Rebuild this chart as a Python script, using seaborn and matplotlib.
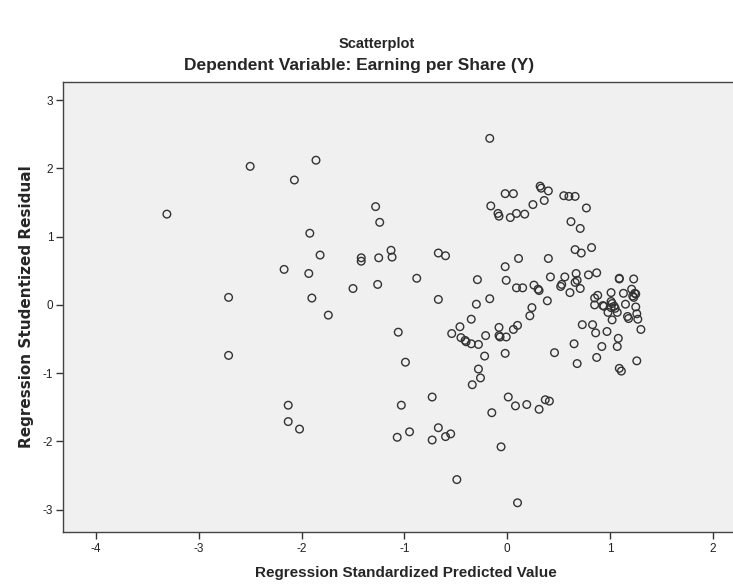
import numpy as np
import pandas as pd
import matplotlib
matplotlib.use("Agg")
import matplotlib.pyplot as plt
import seaborn as sns

# Regression Standardized Predicted Value
pred = [
    -3.31, -2.50, -2.07, -1.86, -1.28, -1.24, -1.92, -1.82, -1.42, -1.42,
    -1.25, -1.13, -1.12, -2.17, -1.93, -1.50, -1.26, -2.71, -1.90,
    -1.74, -2.71, -2.13, -2.13, -2.02,
    -0.17, -0.02, 0.06, 0.32, 0.33, 0.40, -0.16, -0.09, -0.08, 0.03,
    0.09, 0.17, 0.25, 0.36, 0.55, 0.60, 0.66, 0.77, 0.62, 0.71,
    0.66, 0.72, 0.82, -0.67, -0.60, 0.11, 0.40, -0.02, -0.88, -0.29,
    -0.01, 0.42, 0.56, 0.67, 0.79, 0.87, 1.09, 1.09, 1.23, 0.09,
    0.15, 0.26, 0.30, 0.31, 0.52, 0.53, 0.66, 0.68, 0.71, 0.61,
    -0.67, -0.30, -0.17, 0.24, 0.39, 0.85, 0.88, 0.85, 1.01, 0.94,
    1.01, 1.02, 1.01, 1.04, 1.13, 1.21, 1.15, 1.22, 1.23, 1.25,
    1.24, 1.25,
    0.93, 1.05, 0.98, 1.07, 1.26, 1.17, 1.18, 1.27, 1.30, 1.02,
    0.22, 0.73, 0.83, 0.86, 0.97, 1.08, 1.07, 0.92, 0.87, 0.65,
    0.46, 0.68, 1.09, 1.11, 1.26, -1.06, -0.99, -1.03, -1.07, -0.95,
    -0.73, -0.67, -0.73, -0.60, -0.55, -0.49, -0.46, -0.54, -0.35, -0.45,
    -0.41, -0.40, -0.35, -0.28, -0.21, -0.22, -0.28, -0.26, -0.34, -0.08,
    -0.08, -0.07, -0.01, 0.06, 0.10, -0.02, -0.15, 0.01, 0.08, 0.19,
    0.31, 0.37, 0.41, -0.06, 0.10,
]

# Regression Studentized Residual
resid = [
    1.33, 2.03, 1.83, 2.12, 1.44, 1.21, 1.05, 0.73, 0.69, 0.64,
    0.69, 0.80, 0.70, 0.52, 0.46, 0.24, 0.30, 0.11, 0.10,
    -0.15, -0.74, -1.47, -1.71, -1.82,
    2.44, 1.63, 1.63, 1.74, 1.71, 1.67, 1.45, 1.34, 1.30, 1.28,
    1.34, 1.33, 1.47, 1.53, 1.60, 1.59, 1.59, 1.42, 1.22, 1.12,
    0.81, 0.76, 0.84, 0.76, 0.72, 0.68, 0.68, 0.56, 0.39, 0.37,
    0.36, 0.41, 0.41, 0.46, 0.44, 0.47, 0.39, 0.38, 0.38, 0.25,
    0.25, 0.29, 0.23, 0.21, 0.27, 0.30, 0.33, 0.36, 0.24, 0.18,
    0.08, 0.01, 0.09, -0.04, 0.06, 0.10, 0.14, 0.00, 0.18, -0.02,
    0.05, 0.02, -0.04, -0.02, 0.17, 0.23, 0.01, 0.13, 0.11, 0.16,
    0.17, -0.03,
    -0.01, -0.05, -0.11, -0.11, -0.13, -0.17, -0.20, -0.21, -0.36, -0.22,
    -0.16, -0.29, -0.29, -0.41, -0.39, -0.49, -0.61, -0.61, -0.77, -0.57,
    -0.70, -0.86, -0.93, -0.97, -0.82, -0.40, -0.84, -1.47, -1.94, -1.86,
    -1.35, -1.80, -1.98, -1.93, -1.89, -2.56, -0.32, -0.42, -0.21, -0.48,
    -0.52, -0.54, -0.57, -0.58, -0.45, -0.75, -0.94, -1.07, -1.17, -0.33,
    -0.45, -0.47, -0.47, -0.36, -0.30, -0.71, -1.58, -1.35, -1.48, -1.46,
    -1.53, -1.39, -1.41, -2.08, -2.90,
]

df = pd.DataFrame({"pred": pred, "resid": resid})

sns.set_theme(style="ticks")
plt.rcParams["font.family"] = ["Liberation Sans", "DejaVu Sans"]
plt.rcParams["axes.unicode_minus"] = False

fig = plt.figure(figsize=(7.33, 5.88), dpi=100)
ax = fig.add_axes([0.086, 0.095, 0.916, 0.766])
ax.set_facecolor("#f0f0f0")

sns.scatterplot(data=df, x="pred", y="resid", ax=ax, marker="o", s=30,
                fc="none", ec="#333333", linewidth=1.0, legend=False)

ax.set_xlim(-4.32, 2.21)
ax.set_ylim(-3.33, 3.27)
ax.set_xticks(range(-4, 3))
ax.set_yticks(range(-3, 4))
ax.tick_params(axis="both", direction="out", length=5, width=1, color="#333333",
               labelsize=8.5, labelcolor="#222222", pad=2,
               bottom=True, left=True)
ax.tick_params(axis="x", pad=3)
for sp in ax.spines.values():
    sp.set_color("#444444")
    sp.set_linewidth(1.0)
ax.spines["right"].set_visible(False)

ax.set_xlabel("Regression Standardized Predicted Value", fontsize=11,
              fontweight="bold")
ax.xaxis.set_label_coords(0.51, -0.075)
ax.set_ylabel("Regression Studentized Residual", fontsize=11,
              fontweight="bold", labelpad=6, family=["DejaVu Sans"])

fig.text(0.514, 0.925, "Scatterplot", ha="center", va="center",
         fontsize=10.5, fontweight="bold")
fig.text(0.49, 0.888, "Dependent Variable: Earning per Share (Y)", ha="center",
         va="center", fontsize=12.5, fontweight="bold")

fig.savefig("out.png", dpi=100)
